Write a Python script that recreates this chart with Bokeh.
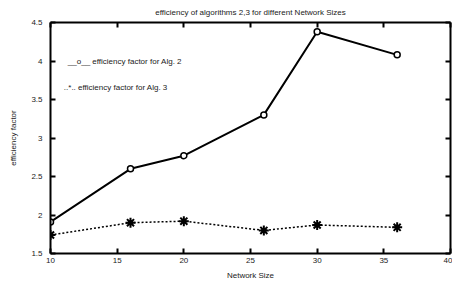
from bokeh.plotting import figure
from bokeh.models import LinearAxis, FixedTicker, Range1d, Label
from bokeh.embed import file_html
from bokeh.resources import INLINE

# ---- data ----
network_size = [10, 16, 20, 26, 30, 36]
eff_alg2 = [1.91, 2.60, 2.77, 3.30, 4.38, 4.08]
eff_alg3 = [1.74, 1.90, 1.92, 1.80, 1.87, 1.84]

x_ticks = [10, 15, 20, 25, 30, 35, 40]
x_tick_labels = ["10", "15", "20", "25", "30", "35", "40"]
y_ticks = [1.5, 2.0, 2.5, 3.0, 3.5, 4.0, 4.5]
y_tick_labels = ["1.5", "2", "2.5", "3", "3.5", "4", "4.5"]

title_text = "efficiency of algorithms 2,3 for different Network Sizes"
legend2_text = "__o__ efficiency factor for Alg. 2"
legend3_text = "..*.. efficiency factor for Alg. 3"

FONT = "Liberation Sans"
FS = "8px"

p = figure(width=452, height=282, output_backend="svg", toolbar_location=None,
           x_range=Range1d(10, 40), y_range=Range1d(1.5, 4.5),
           min_border_left=50, min_border_right=2, min_border_top=22,
           min_border_bottom=26, x_axis_location=None, y_axis_location=None)
p.title.text = title_text
p.title.text_font = FONT
p.title.text_font_size = FS
p.title.text_font_style = "normal"
p.title.align = "center"
p.title.text_color = "#222222"
p.title.standoff = 11
p.xgrid.visible = False
p.ygrid.visible = False
p.outline_line_color = None
p.background_fill_color = "white"
p.border_fill_color = "white"

x_over = {t: l for t, l in zip(x_ticks, x_tick_labels)}
y_over = {t: l for t, l in zip(y_ticks, y_tick_labels)}

def style(ax, labels=True):
    ax.axis_line_width = 2
    ax.axis_line_color = "black"
    ax.major_tick_line_width = 2
    ax.major_tick_in = 5
    ax.major_tick_out = 0
    ax.minor_tick_line_color = None
    ax.major_label_text_font = FONT
    ax.major_label_text_font_size = FS if labels else "0px"
    ax.major_label_text_color = "#222222" if labels else None
    ax.axis_label_text_font = FONT
    ax.axis_label_text_font_size = FS
    ax.axis_label_text_font_style = "normal"
    ax.axis_label_text_color = "#222222"

xb = LinearAxis(ticker=FixedTicker(ticks=x_ticks), major_label_overrides=x_over,
                axis_label="Network Size")
style(xb)
xb.major_label_standoff = 4
xb.axis_label_standoff = 5
p.add_layout(xb, "below")

yl = LinearAxis(ticker=FixedTicker(ticks=y_ticks), major_label_overrides=y_over,
                axis_label="efficiency factor")
style(yl)
yl.major_label_standoff = 8
yl.axis_label_standoff = 10
p.add_layout(yl, "left")

xt = LinearAxis(ticker=FixedTicker(ticks=x_ticks))
style(xt, labels=False)
xt.major_label_standoff = 0
p.add_layout(xt, "above")

yr = LinearAxis(ticker=FixedTicker(ticks=y_ticks))
style(yr, labels=False)
yr.major_label_standoff = 0
p.add_layout(yr, "right")

# Alg. 2: solid line with open circles
p.line(network_size, eff_alg2, line_color="black", line_width=2)
p.scatter(network_size, eff_alg2, marker="circle", size=6, line_color="black",
          line_width=1.5, fill_color="white")

# Alg. 3: dotted line with asterisks
p.line(network_size, eff_alg3, line_color="black", line_width=1.5, line_dash="2 2")
p.scatter(network_size, eff_alg3, marker="asterisk", size=10, line_color="black",
          line_width=2)

for txt, xx, yy in [(legend2_text, 11.3, 3.99), (legend3_text, 11.0, 3.66)]:
    p.add_layout(Label(x=xx, y=yy, text=txt, text_font=FONT, text_font_size=FS,
                       text_color="#222222", text_baseline="middle"))

open("out.html", "w").write(file_html(p, INLINE))
